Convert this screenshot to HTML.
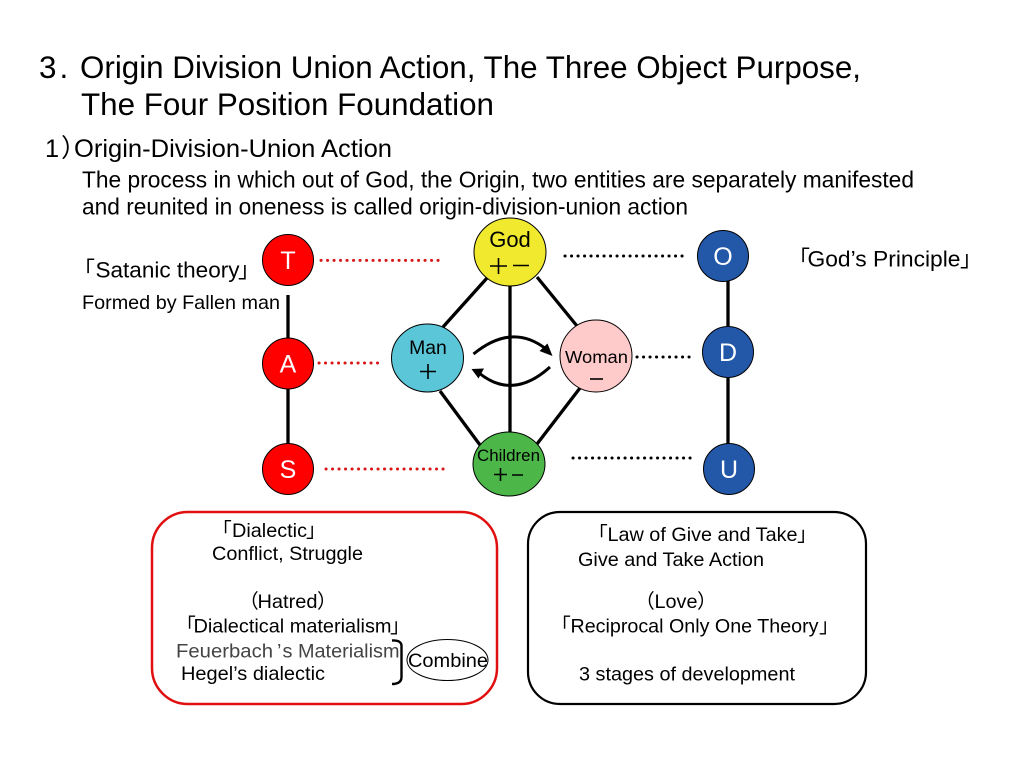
<!DOCTYPE html>
<html><head><meta charset="utf-8"><style>
html,body{margin:0;padding:0;background:#fff}
svg{display:block}
text{font-family:"Liberation Sans","Noto Sans CJK JP",sans-serif;fill:#000}
</style></head><body>
<svg width="1024" height="768" viewBox="0 0 1024 768" xmlns="http://www.w3.org/2000/svg">
<rect width="1024" height="768" fill="#fff"/>
<text x="39" y="78" font-size="31.400" letter-spacing="3">3.</text>
<text x="80" y="78" font-size="31.400" textLength="781" lengthAdjust="spacingAndGlyphs">Origin Division Union Action, The Three Object Purpose,</text>
<text x="81" y="115" font-size="31.400" textLength="413" lengthAdjust="spacingAndGlyphs">The Four Position Foundation</text>
<text x="45" y="157" font-size="25.400">1</text>
<text x="61" y="157" font-size="25.400">）</text>
<text x="74" y="157" font-size="25.400" textLength="318" lengthAdjust="spacingAndGlyphs">Origin-Division-Union Action</text>
<text x="82" y="187.500" font-size="22.900" textLength="832" lengthAdjust="spacingAndGlyphs">The process in which out of God, the Origin, two entities are separately manifested</text>
<text x="82" y="214.500" font-size="22.900" textLength="606" lengthAdjust="spacingAndGlyphs">and reunited in oneness is called origin-division-union action</text>

<text x="73" y="277.500" font-size="22">「</text>
<text x="95.500" y="277.500" font-size="22.400" textLength="144" lengthAdjust="spacingAndGlyphs">Satanic theory</text>
<text x="238" y="277.500" font-size="22">」</text>
<text x="82" y="309" font-size="19.800" textLength="198" lengthAdjust="spacingAndGlyphs">Formed by Fallen man</text>
<text x="788" y="266.500" font-size="22">「</text>
<text x="807.500" y="266.500" font-size="22.400" textLength="153" lengthAdjust="spacingAndGlyphs">God’s Principle</text>
<text x="960" y="266.500" font-size="22">」</text>

<g stroke="#000" stroke-width="3.300" fill="none">
<path d="M288 295V340M288 388V445M728 280V330M728 376V445"/>
<path d="M487 278L443 327M537 277L577 326M510 285V433M440 391L480 445M580 388L537 444"/>
</g>
<g fill="none" stroke="#000" stroke-width="3">
<path d="M473.500 354Q512 322.500 546 349"/>
<path d="M550 367Q513 400.500 479 373"/>
</g>
<path d="M552.500 356L547.500 343.500L539.500 351Z" fill="#000"/>
<path d="M471.500 369L484 368.500L478.500 378.500Z" fill="#000"/>

<g stroke-width="3" stroke-linecap="round" stroke-dasharray="0.1 6.400" fill="none">
<path d="M321 260.400H440M319 363H380M326 469H445" stroke="#d81818"/>
<path d="M565 256H685M637 357H691M573 458H692" stroke="#000"/>
</g>

<g stroke="#000" stroke-width="1">
<circle cx="288" cy="260" r="25.500" fill="#f00"/>
<circle cx="288" cy="363.500" r="25.500" fill="#f00"/>
<circle cx="288" cy="469" r="25.500" fill="#f00"/>
<circle cx="723" cy="256" r="25.500" fill="#2357a8"/>
<circle cx="728" cy="352" r="25.500" fill="#2357a8"/>
<circle cx="729" cy="469" r="25.500" fill="#2357a8"/>
<ellipse cx="510" cy="252" rx="36" ry="34" fill="#f0e92e"/>
<ellipse cx="427.500" cy="358" rx="36" ry="34" fill="#5bc6d8"/>
<ellipse cx="596" cy="356" rx="36" ry="36" fill="#ffcaca"/>
<ellipse cx="509" cy="464" rx="36" ry="32" fill="#4cb648"/>
</g>

<g font-size="25" text-anchor="middle">
<text x="288" y="269" style="fill:#fff">T</text>
<text x="288" y="372.500" style="fill:#fff">A</text>
<text x="288" y="478" style="fill:#fff">S</text>
<text x="723" y="265" style="fill:#fff">O</text>
<text x="728" y="361" style="fill:#fff">D</text>
<text x="729" y="478" style="fill:#fff">U</text>
</g>
<text x="510" y="247" font-size="22" text-anchor="middle">God</text>
<text x="428" y="354" font-size="19.400" text-anchor="middle">Man</text>
<text x="596.500" y="363" font-size="17.800" text-anchor="middle" textLength="63" lengthAdjust="spacingAndGlyphs">Woman</text>
<text x="508.500" y="461" font-size="16.800" text-anchor="middle" textLength="63" lengthAdjust="spacingAndGlyphs">Children</text>
<g stroke="#000" stroke-width="1.600" fill="none">
<path d="M498.500 258V274M490 266H507M513 265.500H529"/>
<path d="M428 364V379M420 371.500H436"/>
<path d="M590 379H603"/>
<path d="M500.500 468V481M494 474.500H507M512 475H523"/>
</g>

<rect x="152" y="512" width="345" height="192" rx="36" ry="36" fill="none" stroke="#e01010" stroke-width="2.500"/>
<rect x="528" y="512" width="338" height="192" rx="32" ry="32" fill="none" stroke="#000" stroke-width="2.200"/>

<g font-size="19.800">
<text x="212" y="537">「</text>
<text x="232" y="537" textLength="75" lengthAdjust="spacingAndGlyphs">Dialectic</text>
<text x="306" y="537">」</text>
<text x="212" y="560" textLength="151" lengthAdjust="spacingAndGlyphs">Conflict, Struggle</text>
<text x="239" y="608">（</text>
<text x="257.500" y="608" textLength="60" lengthAdjust="spacingAndGlyphs">Hatred</text>
<text x="317" y="608">）</text>
<text x="176" y="632.500">「</text>
<text x="193.500" y="632.500" textLength="198" lengthAdjust="spacingAndGlyphs">Dialectical materialism</text>
<text x="390" y="632.500">」</text>
<text x="176" y="657.500" textLength="97" lengthAdjust="spacingAndGlyphs" style="fill:#444">Feuerbach</text>
<text x="277" y="657.500" style="fill:#444">’</text>
<text x="282.500" y="657.500" textLength="117" lengthAdjust="spacingAndGlyphs" style="fill:#444">s Materialism</text>
<text x="181" y="680" textLength="144" lengthAdjust="spacingAndGlyphs">Hegel’s dialectic</text>
<text x="408" y="667" textLength="80" lengthAdjust="spacingAndGlyphs">Combine</text>
<text x="588" y="541">「</text>
<text x="607.500" y="541" textLength="190" lengthAdjust="spacingAndGlyphs">Law of Give and Take</text>
<text x="797" y="541">」</text>
<text x="578" y="566" textLength="186" lengthAdjust="spacingAndGlyphs">Give and Take Action</text>
<text x="635" y="608">（</text>
<text x="654.500" y="608" textLength="43" lengthAdjust="spacingAndGlyphs">Love</text>
<text x="697" y="608">）</text>
<text x="551" y="632.500">「</text>
<text x="570.500" y="632.500" textLength="248" lengthAdjust="spacingAndGlyphs">Reciprocal Only One Theory</text>
<text x="819" y="632.500">」</text>
<text x="579" y="680.500" textLength="216" lengthAdjust="spacingAndGlyphs">3 stages of development</text>
</g>
<path d="M392 640.500Q401.500 640 401.500 646V677Q401.500 684 392 684" fill="none" stroke="#000" stroke-width="2.400"/>
<ellipse cx="447.500" cy="660" rx="40.500" ry="20.500" fill="none" stroke="#000" stroke-width="1"/>
</svg>
</body></html>
